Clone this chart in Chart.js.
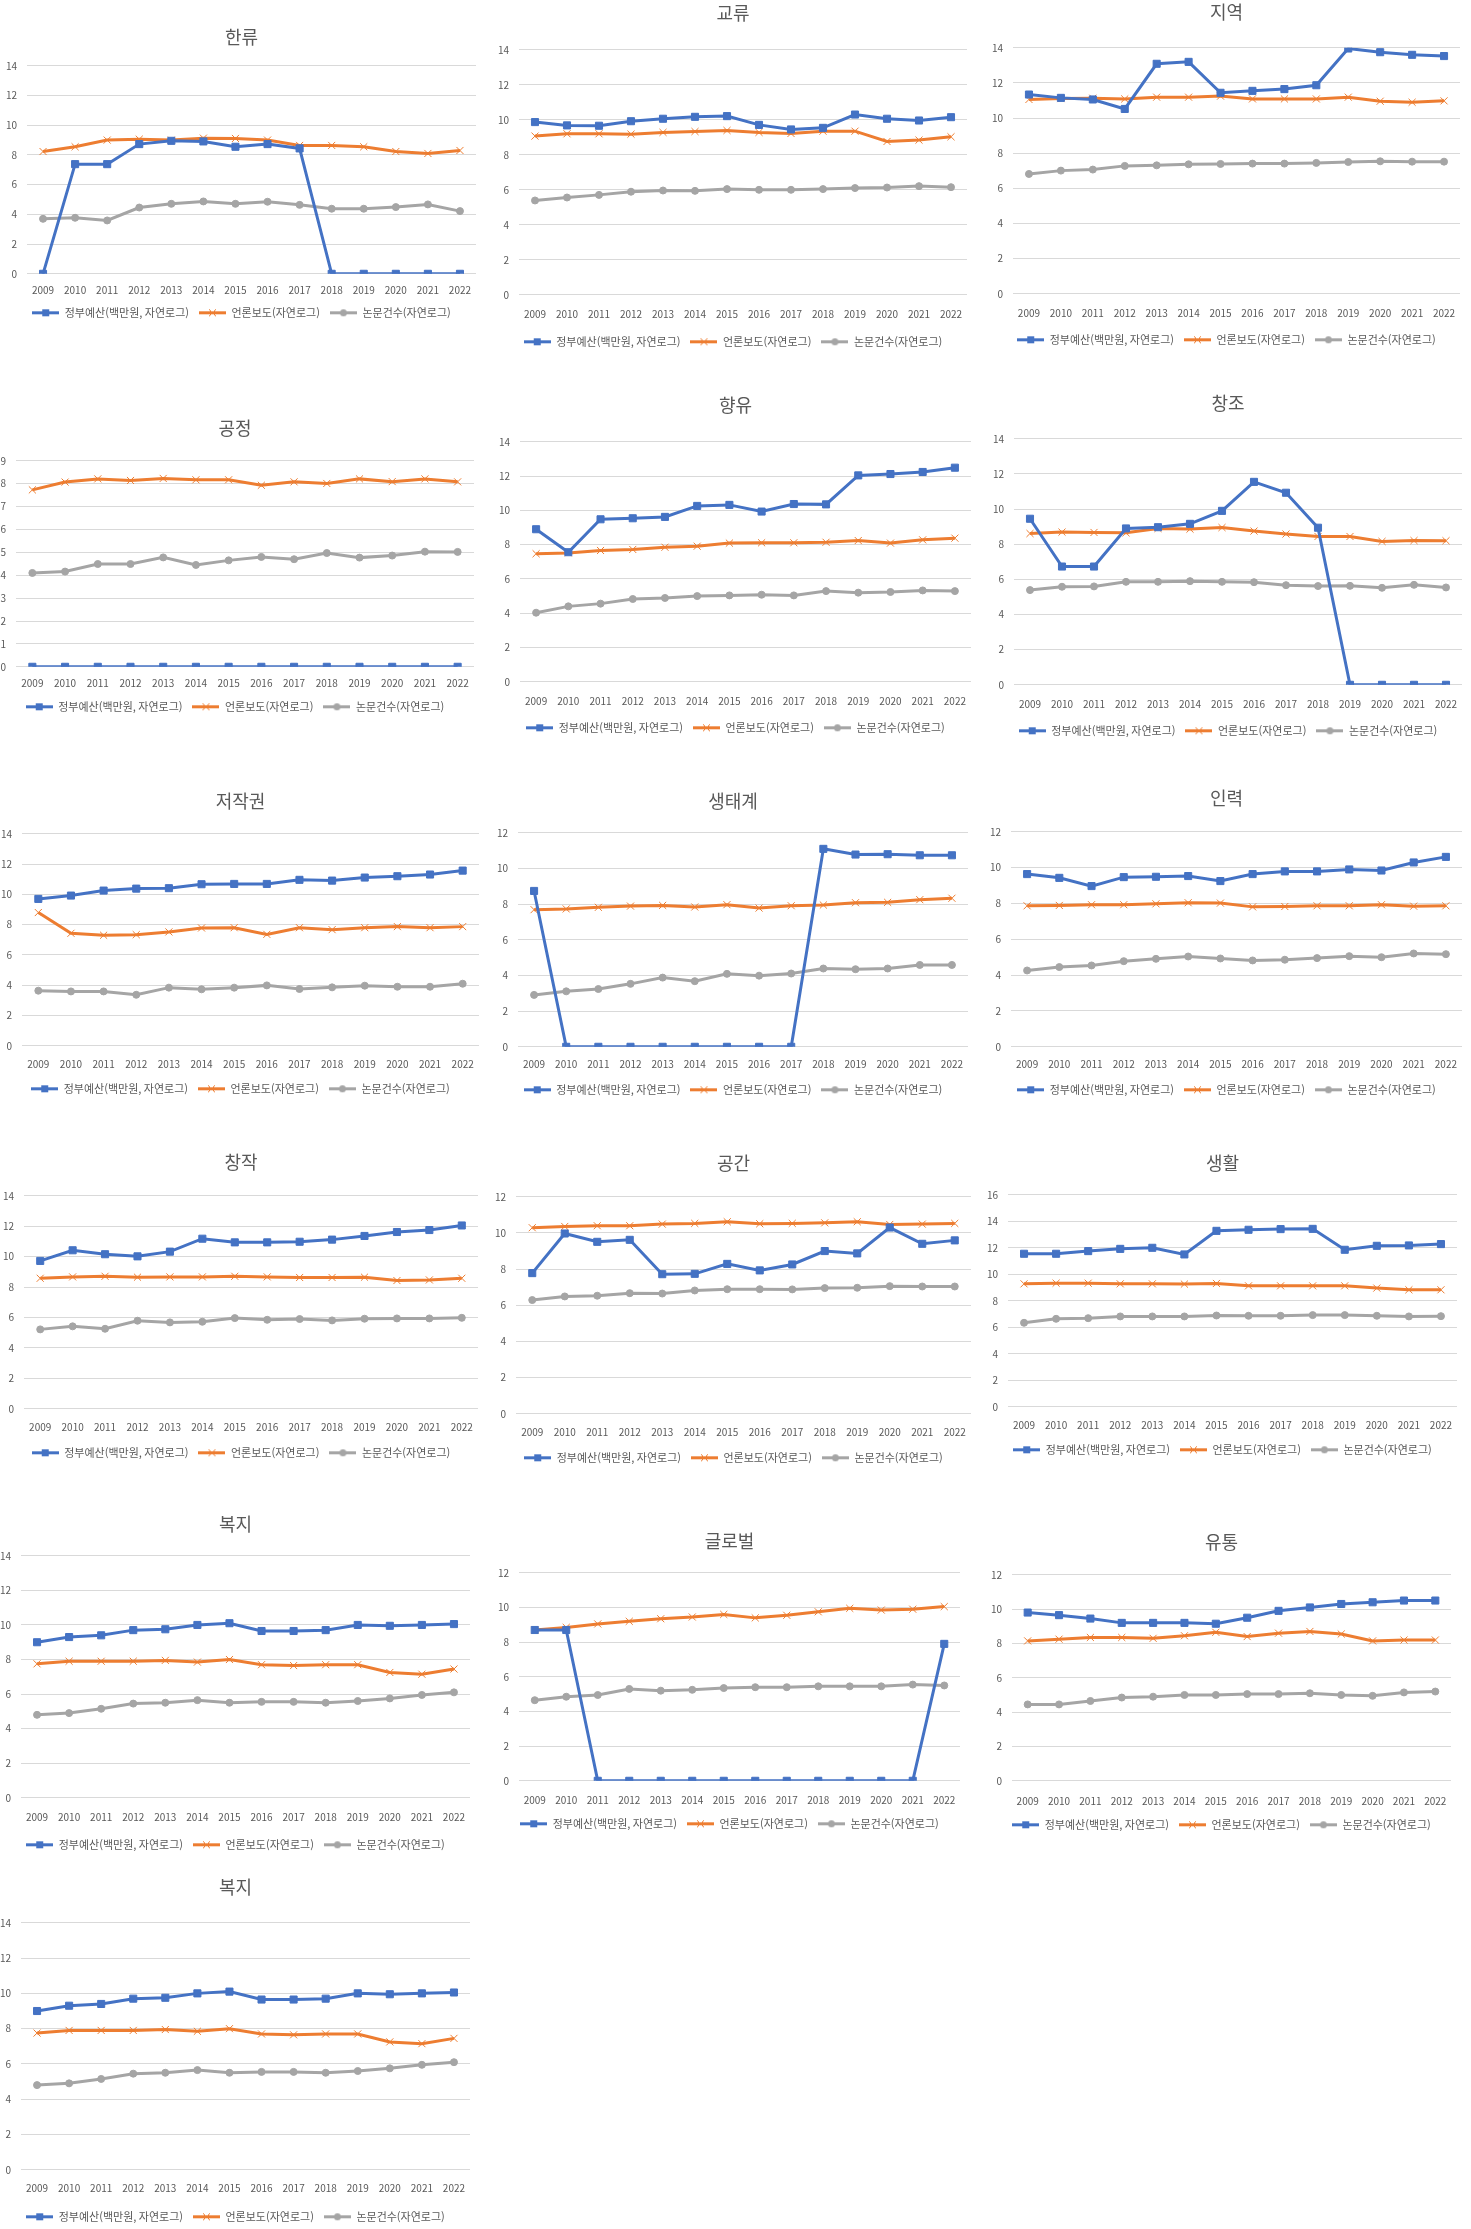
<!DOCTYPE html>
<html lang="ko">
<head>
<meta charset="utf-8">
<title>분야별 정부예산·언론보도·논문건수 추이</title>
<script src="https://cdn.jsdelivr.net/npm/chart.js@4.4.1/dist/chart.umd.min.js"></script>
<style>
  html, body { margin: 0; padding: 0; background: #fff; }
  #page { position: relative; width: 1471px; height: 2229px; overflow: hidden; }
  .box { position: absolute; }
</style>
</head>
<body>
<div id="page"></div>
<script>
const years = ['2009', '2010', '2011', '2012', '2013', '2014', '2015', '2016', '2017', '2018', '2019', '2020', '2021', '2022'];
const seriesNames = ['정부예산(백만원, 자연로그)', '언론보도(자연로그)', '논문건수(자연로그)'];

// 한류
const hallyuBudget = [0, 7.38, 7.38, 8.73, 8.95, 8.91, 8.55, 8.73, 8.44, 0, 0, 0, 0, 0];
const hallyuPress = [8.23, 8.55, 9.0, 9.06, 9.0, 9.13, 9.11, 9.0, 8.64, 8.64, 8.55, 8.23, 8.1, 8.3];
const hallyuPapers = [3.7, 3.77, 3.59, 4.46, 4.71, 4.87, 4.71, 4.85, 4.64, 4.38, 4.38, 4.49, 4.67, 4.22];
// 교류
const exchangeBudget = [9.87, 9.68, 9.66, 9.92, 10.06, 10.17, 10.21, 9.71, 9.45, 9.54, 10.3, 10.06, 9.96, 10.15];
const exchangePress = [9.07, 9.2, 9.2, 9.18, 9.28, 9.33, 9.39, 9.28, 9.22, 9.35, 9.35, 8.76, 8.84, 9.03];
const exchangePapers = [5.39, 5.56, 5.71, 5.89, 5.96, 5.94, 6.04, 6.0, 6.0, 6.04, 6.1, 6.13, 6.21, 6.15];
// 지역
const regionBudget = [11.34, 11.15, 11.06, 10.52, 13.09, 13.2, 11.44, 11.55, 11.65, 11.87, 13.96, 13.75, 13.6, 13.53];
const regionPress = [11.06, 11.11, 11.13, 11.09, 11.19, 11.19, 11.25, 11.09, 11.09, 11.09, 11.19, 10.96, 10.9, 10.98];
const regionPapers = [6.82, 7.01, 7.07, 7.28, 7.31, 7.37, 7.39, 7.41, 7.41, 7.45, 7.5, 7.54, 7.52, 7.52];
// 공정
const fairBudget = [0, 0, 0, 0, 0, 0, 0, 0, 0, 0, 0, 0, 0, 0];
const fairPress = [7.73, 8.07, 8.21, 8.14, 8.23, 8.17, 8.17, 7.93, 8.08, 8.01, 8.21, 8.09, 8.21, 8.08];
const fairPapers = [4.1, 4.16, 4.49, 4.49, 4.78, 4.45, 4.65, 4.8, 4.7, 4.97, 4.77, 4.86, 5.03, 5.02];
// 향유
const enjoyBudget = [8.9, 7.56, 9.48, 9.54, 9.62, 10.26, 10.32, 9.93, 10.37, 10.35, 12.04, 12.12, 12.24, 12.49];
const enjoyPress = [7.47, 7.52, 7.66, 7.72, 7.85, 7.91, 8.09, 8.11, 8.11, 8.14, 8.24, 8.09, 8.28, 8.38];
const enjoyPapers = [4.03, 4.4, 4.56, 4.83, 4.89, 5.0, 5.04, 5.08, 5.04, 5.29, 5.2, 5.24, 5.33, 5.29];
// 창조
const createBudget = [9.45, 6.73, 6.73, 8.9, 8.97, 9.16, 9.9, 11.55, 10.93, 8.94, 0, 0, 0, 0];
const createPress = [8.61, 8.69, 8.67, 8.65, 8.9, 8.86, 8.95, 8.75, 8.58, 8.44, 8.44, 8.16, 8.21, 8.2];
const createPapers = [5.39, 5.58, 5.6, 5.86, 5.86, 5.9, 5.86, 5.84, 5.67, 5.62, 5.63, 5.52, 5.69, 5.54];
// 저작권
const copyBudget = [9.7, 9.92, 10.25, 10.38, 10.41, 10.67, 10.69, 10.69, 10.96, 10.91, 11.11, 11.2, 11.31, 11.57];
const copyPress = [8.8, 7.43, 7.3, 7.34, 7.52, 7.78, 7.8, 7.36, 7.8, 7.67, 7.8, 7.87, 7.8, 7.87];
const copyPapers = [3.64, 3.59, 3.59, 3.37, 3.84, 3.73, 3.84, 3.99, 3.75, 3.86, 3.97, 3.9, 3.9, 4.1];
// 생태계
const ecoBudget = [8.74, 0, 0, 0, 0, 0, 0, 0, 0, 11.1, 10.78, 10.8, 10.74, 10.74];
const ecoPress = [7.69, 7.73, 7.82, 7.89, 7.93, 7.84, 7.97, 7.78, 7.91, 7.95, 8.08, 8.1, 8.25, 8.33];
const ecoPapers = [2.91, 3.11, 3.24, 3.53, 3.88, 3.68, 4.09, 3.99, 4.11, 4.39, 4.35, 4.39, 4.59, 4.59];
// 인력
const staffBudget = [9.64, 9.43, 8.97, 9.47, 9.49, 9.53, 9.25, 9.64, 9.79, 9.79, 9.9, 9.84, 10.29, 10.6];
const staffPress = [7.87, 7.89, 7.93, 7.93, 7.98, 8.04, 8.02, 7.81, 7.83, 7.87, 7.87, 7.93, 7.85, 7.87];
const staffPapers = [4.26, 4.45, 4.54, 4.78, 4.91, 5.04, 4.93, 4.82, 4.86, 4.95, 5.06, 5.0, 5.21, 5.17];
// 창작
const artBudget = [9.72, 10.42, 10.16, 10.02, 10.33, 11.18, 10.94, 10.94, 10.98, 11.12, 11.36, 11.62, 11.75, 12.05];
const artPress = [8.58, 8.67, 8.71, 8.65, 8.67, 8.67, 8.71, 8.67, 8.63, 8.63, 8.65, 8.43, 8.47, 8.58];
const artPapers = [5.22, 5.42, 5.26, 5.79, 5.68, 5.72, 5.96, 5.85, 5.9, 5.81, 5.92, 5.94, 5.94, 5.98];
// 공간
const spaceBudget = [7.78, 9.97, 9.51, 9.62, 7.72, 7.74, 8.29, 7.93, 8.26, 9.0, 8.87, 10.3, 9.4, 9.59];
const spacePress = [10.29, 10.36, 10.4, 10.4, 10.49, 10.53, 10.62, 10.51, 10.53, 10.56, 10.62, 10.47, 10.49, 10.53];
const spacePapers = [6.29, 6.49, 6.53, 6.67, 6.65, 6.82, 6.89, 6.89, 6.88, 6.95, 6.97, 7.06, 7.04, 7.04];
// 생활
const lifeBudget = [11.55, 11.55, 11.75, 11.92, 12.0, 11.5, 13.28, 13.36, 13.41, 13.43, 11.85, 12.15, 12.18, 12.28];
const lifePress = [9.28, 9.33, 9.33, 9.28, 9.28, 9.26, 9.31, 9.13, 9.13, 9.13, 9.13, 8.96, 8.83, 8.83];
const lifePapers = [6.34, 6.64, 6.69, 6.82, 6.82, 6.82, 6.89, 6.87, 6.87, 6.92, 6.92, 6.87, 6.82, 6.84];
// 복지
const welfareBudget = [9.0, 9.3, 9.4, 9.7, 9.75, 10.0, 10.1, 9.65, 9.65, 9.7, 10.0, 9.95, 10.0, 10.05];
const welfarePress = [7.75, 7.9, 7.9, 7.9, 7.95, 7.85, 8.0, 7.7, 7.65, 7.7, 7.7, 7.25, 7.15, 7.45];
const welfarePapers = [4.8, 4.9, 5.15, 5.45, 5.5, 5.65, 5.5, 5.55, 5.55, 5.5, 5.6, 5.75, 5.95, 6.1];
// 글로벌
const globalBudget = [8.7, 8.7, 0, 0, 0, 0, 0, 0, 0, 0, 0, 0, 0, 7.9];
const globalPress = [8.7, 8.85, 9.05, 9.2, 9.35, 9.45, 9.6, 9.4, 9.55, 9.75, 9.95, 9.85, 9.9, 10.05];
const globalPapers = [4.65, 4.85, 4.95, 5.3, 5.2, 5.25, 5.35, 5.4, 5.4, 5.45, 5.45, 5.45, 5.55, 5.5];
// 유통
const distBudget = [9.8, 9.65, 9.45, 9.2, 9.2, 9.2, 9.15, 9.5, 9.9, 10.1, 10.3, 10.4, 10.5, 10.5];
const distPress = [8.15, 8.25, 8.35, 8.35, 8.3, 8.45, 8.65, 8.4, 8.6, 8.7, 8.55, 8.15, 8.2, 8.2];
const distPapers = [4.45, 4.45, 4.65, 4.85, 4.9, 5.0, 5.0, 5.05, 5.05, 5.1, 5.0, 4.95, 5.15, 5.2];

// title, series, y max, y step
const charts = [
  ['한류', hallyuBudget, hallyuPress, hallyuPapers, 14, 2],
  ['교류', exchangeBudget, exchangePress, exchangePapers, 14, 2],
  ['지역', regionBudget, regionPress, regionPapers, 14, 2],
  ['공정', fairBudget, fairPress, fairPapers, 9, 1],
  ['향유', enjoyBudget, enjoyPress, enjoyPapers, 14, 2],
  ['창조', createBudget, createPress, createPapers, 14, 2],
  ['저작권', copyBudget, copyPress, copyPapers, 14, 2],
  ['생태계', ecoBudget, ecoPress, ecoPapers, 12, 2],
  ['인력', staffBudget, staffPress, staffPapers, 12, 2],
  ['창작', artBudget, artPress, artPapers, 14, 2],
  ['공간', spaceBudget, spacePress, spacePapers, 12, 2],
  ['생활', lifeBudget, lifePress, lifePapers, 16, 2],
  ['복지', welfareBudget, welfarePress, welfarePapers, 14, 2],
  ['글로벌', globalBudget, globalPress, globalPapers, 12, 2],
  ['유통', distBudget, distPress, distPapers, 12, 2],
  ['복지', welfareBudget, welfarePress, welfarePapers, 14, 2]
];

// page geometry of each panel: title centre, plot top, plot bottom, x label centre, legend centre, plot left, plot right
const frames = [
  [37, 66, 274, 288, 313, 27, 482],
  [13, 50, 295, 312, 342, 519, 973],
  [12, 48, 294, 311, 340, 1013, 1466],
  [428, 461, 667, 681, 707, 16, 480],
  [405, 442, 682, 699, 728, 520, 977],
  [403, 439, 685, 702, 731, 1014, 1468],
  [801, 834, 1046, 1062, 1089, 22, 485],
  [801, 833, 1047, 1062, 1090, 518, 974],
  [798, 832, 1047, 1062, 1090, 1011, 1468],
  [1162, 1196, 1409, 1425, 1453, 24, 484],
  [1163, 1197, 1414, 1430, 1458, 516, 977],
  [1163, 1195, 1407, 1423, 1450, 1008, 1463],
  [1524, 1556, 1798, 1815, 1845, 21, 476],
  [1541, 1573, 1781, 1798, 1824, 519, 966],
  [1542, 1575, 1781, 1799, 1825, 1012, 1457],
  [1887, 1923, 2170, 2186, 2217, 21, 476]
];

const colors = ['#4472C4', '#ED7D31', '#A5A5A5'];
const markers = ['rect', 'crossRot', 'circle'];
const textColor = '#595959';
const family = "'Noto Sans CJK KR', 'Noto Sans', sans-serif";
const TITLE_SIZE = 18;
const TICK_SIZE = 10;
const LEG_SIZE = 11;
const LEG_PAD = 10;
const Y_W = 26;

function legendIcon(color, style) {
  const c = document.createElement('canvas');
  c.width = 27;
  c.height = 11;
  const g = c.getContext('2d');
  g.strokeStyle = color;
  g.fillStyle = color;
  g.lineWidth = 3;
  g.beginPath();
  g.moveTo(0, 5.5);
  g.lineTo(27, 5.5);
  g.stroke();
  if (style === 'rect') {
    g.fillRect(10, 2, 7, 7);
  } else if (style === 'circle') {
    g.beginPath();
    g.arc(13.5, 5.5, 3.5, 0, Math.PI * 2);
    g.fill();
  } else {
    g.lineWidth = 1;
    g.beginPath();
    g.moveTo(10, 2); g.lineTo(17, 9);
    g.moveTo(17, 2); g.lineTo(10, 9);
    g.stroke();
  }
  return c;
}
const icons = colors.map((c, i) => legendIcon(c, markers[i]));

const page = document.getElementById('page');

charts.forEach((def, n) => {
  const [title, budget, press, papers, yMax, yStep] = def;
  const [tc, pt, pb, lc, gc, pl, pr] = frames[n];
  const titleH = TITLE_SIZE * 1.2;
  const legH = 2 * LEG_PAD + LEG_SIZE;
  const legTop = gc - LEG_PAD - LEG_SIZE / 2;
  const left = pl - Y_W;
  const top = tc - titleH / 2;
  const bottom = legTop + legH;

  const box = document.createElement('div');
  box.className = 'box';
  box.style.left = left + 'px';
  box.style.top = top + 'px';
  box.style.width = (pr - left) + 'px';
  box.style.height = (bottom - top) + 'px';
  const cv = document.createElement('canvas');
  box.appendChild(cv);
  page.appendChild(box);

  const values = [budget, press, papers];
  new Chart(cv, {
    type: 'line',
    data: {
      labels: years,
      datasets: values.map((v, i) => ({
        label: seriesNames[i],
        data: v,
        borderColor: colors[i],
        backgroundColor: colors[i],
        borderWidth: 3,
        pointStyle: markers[i],
        pointRadius: i === 2 ? 3.5 : 5,
        pointBorderWidth: 1,
        pointBorderColor: colors[i],
        pointBackgroundColor: colors[i],
        tension: 0
      }))
    },
    options: {
      responsive: true,
      maintainAspectRatio: false,
      animation: false,
      layout: { padding: 0 },
      plugins: {
        title: {
          display: true,
          text: title,
          color: textColor,
          font: { size: TITLE_SIZE, family: family, weight: 'normal', lineHeight: 1.2 },
          padding: { top: 0, bottom: pt - tc - titleH / 2 }
        },
        legend: {
          position: 'bottom',
          labels: {
            usePointStyle: true,
            pointStyleWidth: 27,
            padding: LEG_PAD,
            color: textColor,
            font: { size: LEG_SIZE, family: family },
            generateLabels(chart) {
              const items = Chart.defaults.plugins.legend.labels.generateLabels(chart);
              items.forEach((it, i) => { it.pointStyle = icons[i]; });
              return items;
            }
          }
        },
        tooltip: { enabled: false }
      },
      scales: {
        x: {
          offset: true,
          grid: { display: false },
          border: { display: false },
          ticks: {
            color: textColor,
            font: { size: TICK_SIZE, family: family },
            padding: Math.max(0, lc - pb - 12),
            maxRotation: 0,
            autoSkip: false
          },
          afterFit(scale) { scale.height = legTop - pb; }
        },
        y: {
          min: 0,
          max: yMax,
          ticks: {
            stepSize: yStep,
            padding: 10,
            color: textColor,
            font: { size: TICK_SIZE, family: family }
          },
          grid: { color: '#D9D9D9', drawTicks: false },
          border: { display: false },
          afterFit(scale) { scale.width = Y_W; }
        }
      }
    }
  });
});
</script>
</body>
</html>
